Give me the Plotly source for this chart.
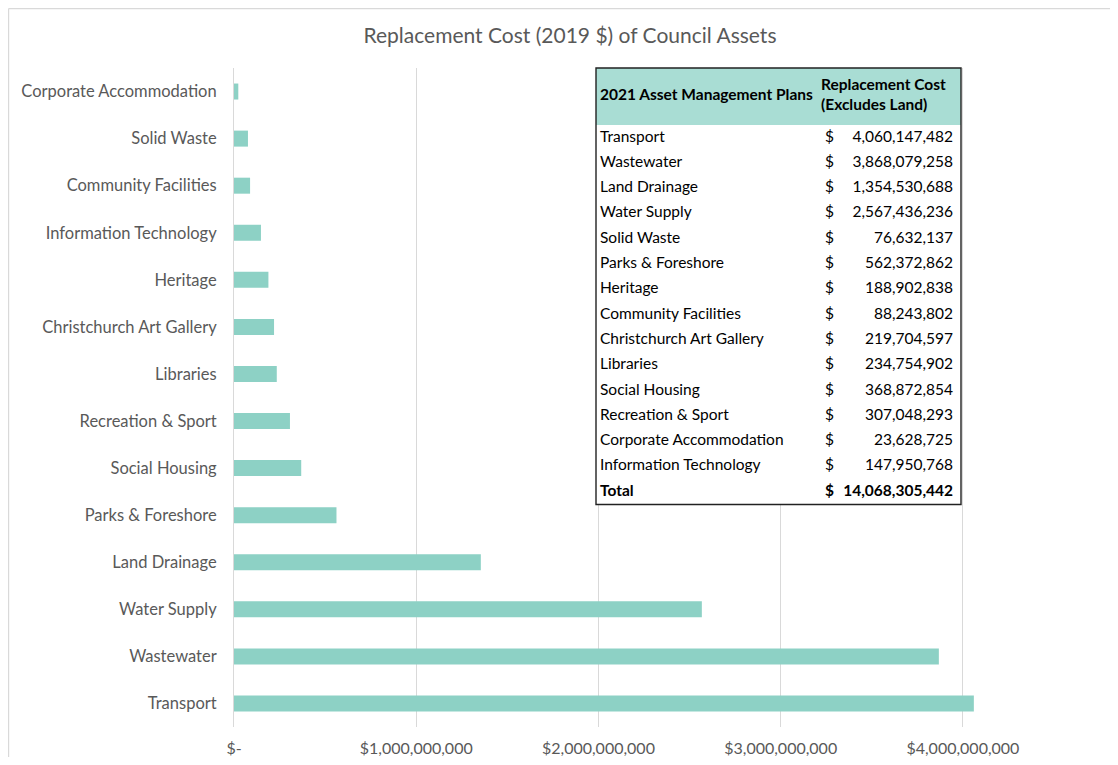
import plotly.graph_objects as go

# ---- data (table order) ----
asset_plans = [
    "Transport", "Wastewater", "Land Drainage", "Water Supply", "Solid Waste",
    "Parks & Foreshore", "Heritage", "Community Facilities",
    "Christchurch Art Gallery", "Libraries", "Social Housing",
    "Recreation & Sport", "Corporate Accommodation", "Information Technology",
]
replacement_cost = [
    4060147482, 3868079258, 1354530688, 2567436236, 76632137,
    562372862, 188902838, 88243802,
    219704597, 234754902, 368872854,
    307048293, 23628725, 147950768,
]
tick_values = [0, 1e9, 2e9, 3e9, 4e9]
tick_labels = ["$-" if v == 0 else "${:,.0f}".format(v) for v in tick_values]

title_text = "Replacement Cost (2019 $) of Council Assets"
header_col1 = "2021 Asset Management Plans"
header_col2 = "Replacement Cost<br>(Excludes Land)"
total_label = "Total"

# ---- derived ----
pairs = sorted(zip(asset_plans, replacement_cost), key=lambda p: -p[1])
bar_cats = [p[0] for p in pairs]
bar_vals = [p[1] for p in pairs]
total = sum(replacement_cost)

BAR = "#8dd1c5"
HEAD = "#a9ddd4"
GREY = "#595959"
GRID = "#d9d9d9"
FONT = "Lato"

# table geometry (table-local pixel units on its own axes)
TW, HEADER_H, ROW_H = 365.0, 57.0, 25.3
n_rows = len(asset_plans) + 1
TH = HEADER_H + n_rows * ROW_H
row_y = [HEADER_H + ROW_H * (i + 0.5) for i in range(n_rows)]
head_y = HEADER_H / 2 - 0.5

names = asset_plans + ["<b>" + total_label + "</b>"]
dollars = ["$"] * len(asset_plans) + ["<b>$</b>"]
values_txt = ["{:,.0f}".format(v) for v in replacement_cost] + ["<b>{:,.0f}</b>".format(total)]

fig = go.Figure()
fig.add_trace(go.Bar(
    x=bar_vals, y=bar_cats, orientation="h",
    marker=dict(color=BAR, line=dict(width=0)),
    hoverinfo="x+y",
))

tfont = dict(family=FONT, size=15.5, color="black")
fig.add_trace(go.Scatter(x=[4] * n_rows, y=row_y, text=names, mode="text",
                         textposition="middle right", textfont=tfont,
                         xaxis="x2", yaxis="y2", hoverinfo="skip"))
fig.add_trace(go.Scatter(x=[229] * n_rows, y=row_y, text=dollars, mode="text",
                         textposition="middle right", textfont=tfont,
                         xaxis="x2", yaxis="y2", hoverinfo="skip"))
fig.add_trace(go.Scatter(x=[TW - 8] * n_rows, y=row_y, text=values_txt, mode="text",
                         textposition="middle left", textfont=tfont,
                         xaxis="x2", yaxis="y2", hoverinfo="skip"))
hfont = dict(family=FONT, size=15.5, color="black")
fig.add_trace(go.Scatter(x=[4, 225], y=[head_y, head_y],
                         text=["<b>" + header_col1 + "</b>", "<b>" + header_col2 + "</b>"],
                         mode="text", textposition="middle right", textfont=hfont,
                         xaxis="x2", yaxis="y2", hoverinfo="skip"))

# figure sits at (8, 8) inside the page (default body margin)
L, T, PW, PH = 226, 60, 820, 659
W, H = 1110, 749
tx0 = (596 - 8 - L) / PW
tx1 = tx0 + TW / PW
ty1 = 1.0
ty0 = 1.0 - TH / PH

fig.update_layout(
    width=W, height=H,
    margin=dict(l=L, r=W - L - PW, t=T, b=H - T - PH, autoexpand=False),
    paper_bgcolor="white", plot_bgcolor="white",
    showlegend=False,
    bargap=0.66,
    font=dict(family=FONT, color=GREY),
    title=dict(text=title_text, x=562 / W, xanchor="center", y=1 - 28 / H, yanchor="middle",
               font=dict(family=FONT, size=21, color=GREY)),
    xaxis=dict(range=[0, 4.5e9], tickvals=tick_values, ticktext=tick_labels,
               showgrid=True, gridcolor=GRID, gridwidth=1, zeroline=False,
               showline=False, ticks="", ticklabelstandoff=10, automargin=False,
               tickfont=dict(family=FONT, size=16, color=GREY), fixedrange=True),
    yaxis=dict(type="category", categoryorder="array", categoryarray=bar_cats,
               showgrid=False, showline=True, linecolor=GRID, linewidth=1,
               ticks="", ticklabelstandoff=13, automargin=False,
               tickfont=dict(family=FONT, size=16.5, color=GREY), fixedrange=True),
    xaxis2=dict(domain=[tx0, tx1], range=[0, TW], anchor="y2", visible=False,
                fixedrange=True, automargin=False),
    yaxis2=dict(domain=[ty0, ty1], range=[TH, 0], anchor="x2", visible=False,
                fixedrange=True, automargin=False),
    shapes=[
        dict(type="rect", xref="x2", yref="y2", x0=0, x1=TW, y0=0, y1=TH,
             fillcolor="white", line=dict(width=0), layer="below"),
        dict(type="rect", xref="x2", yref="y2", x0=0, x1=TW, y0=0, y1=HEADER_H,
             fillcolor=HEAD, line=dict(width=0), layer="below"),
        dict(type="rect", xref="paper", yref="paper", x0=tx0, x1=tx1, y0=ty0, y1=ty1,
             line=dict(color="#222222", width=1.4), fillcolor="rgba(0,0,0,0)", layer="above"),
        dict(type="line", xref="paper", yref="paper", x0=(0.6 - L) / PW, x1=(W - L) / PW,
             y0=(T + PH - 0.6) / PH, y1=(T + PH - 0.6) / PH,
             line=dict(color=GRID, width=1.2)),
        dict(type="line", xref="paper", yref="paper", x0=(0.6 - L) / PW, x1=(0.6 - L) / PW,
             y0=(T + PH - H) / PH, y1=(T + PH - 0.6) / PH,
             line=dict(color=GRID, width=1.2)),
    ],
)

fig.write_html("out.html")
